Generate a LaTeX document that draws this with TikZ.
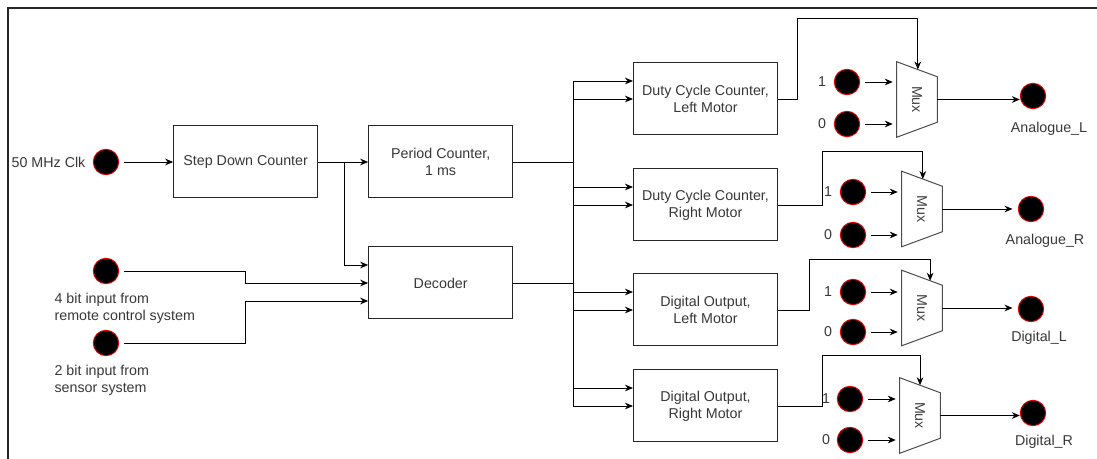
\documentclass[tikz,border=0pt]{standalone}
\usepackage{fontspec}
\setmainfont{Liberation Sans}
\usepackage{graphicx}
\usepackage{tikz}
\usetikzlibrary{arrows.meta,calc,positioning}

\begin{document}
\begin{tikzpicture}[
	x=0.75pt, y=-0.75pt,
	font=\fontsize{10.7}{13}\selectfont,
	>={Stealth[length=6pt,width=5pt]},
	% Node styles
	block/.style={
		rectangle, draw=black!85, fill=white, line width=0.75pt,
		minimum width=108pt, minimum height=54pt,
		align=center, text=black!78, inner sep=2pt
	},
	port/.style={
		circle, fill=black, draw=red!85!black, line width=0.75pt,
		minimum size=19pt, inner sep=0pt
	},
	muxbox/.style={
		rectangle, minimum width=30pt, minimum height=56.25pt,
		inner sep=0pt, text=black!75
	},
	muxline/.style={draw=black!70, line width=0.75pt},
	txt/.style={text=black!78, inner sep=1pt},
	arr/.style={->, line width=0.65pt, black},
	frame/.style={line width=1.5pt, black!85}
	]
	
	\useasboundingbox (0,0) rectangle (1097,459);
	\draw[frame] (8,470) -- (8,8) -- (1110,8);
	
	%% --- INPUTS --------------------------------------------------------------
	\node[port] (clk) at (106,162) {};
	\node[txt, anchor=east] (clklbl) at (87,162) {50 MHz Clk};
	\node[port] (remote) at (106,271) {};
	\node[txt, anchor=west, align=left] (remotelbl) at (53,308.5)
	{4 bit input from\\remote control system};
	\node[port] (sensor) at (106,343) {};
	\node[txt, anchor=west, align=left] (sensorlbl) at (53,380)
	{2 bit input from\\sensor system};
	
	%% --- COUNTERS AND DECODER -----------------------------------------------
	\node[block, right=40.5pt of clk] (step) {Step Down Counter};
	\node[block, right=37.5pt of step] (period) {Period Counter,\\1 ms};
	\node[block, below=36pt of period] (decoder) {Decoder};
	
	\draw[arr, shorten <=3.75pt] (clk.east) -- (step.west);
	\draw[arr] (step.east) -- (period.west);
	\draw[arr] (step.east) -- ++(26,0) |- ([yshift=13.5pt]decoder.west);
	\draw[arr, shorten <=3.75pt] (remote.east) -- ++(126,0) |- (decoder.west);
	\draw[arr, shorten <=3.75pt] (sensor.east) -- ++(126,0) |- ([yshift=-13.5pt]decoder.west);
	
	%% --- MOTOR BLOCKS --------------------------------------------------------
	\node[block] (dutyL) at (705.5,99)  {Duty Cycle Counter,\\Left Motor};
	\node[block] (dutyR) at (705.5,205) {Duty Cycle Counter,\\Right Motor};
	\node[block] (digL)  at (705.5,310) {Digital Output,\\Left Motor};
	\node[block] (digR)  at (705.5,406) {Digital Output,\\Right Motor};
	
	\draw[arr] (period.east) -- ++(60,0) |- ([yshift=13.5pt]dutyL.west);
	\draw[arr] (period.east) -- ++(60,0) |- ([yshift=13.5pt]dutyR.west);
	\draw[arr] (period.east) -- ++(60,0) |- ([yshift=13.5pt]digL.west);
	\draw[arr] (period.east) -- ++(60,0) |- ([yshift=13.5pt]digR.west);
	\draw[arr] (decoder.east) -- ++(60,0) |- (dutyL.west);
	\draw[arr] (decoder.east) -- ++(60,0) |- (dutyR.west);
	\draw[arr] (decoder.east) -- ++(60,0) |- (digL.west);
	\draw[arr] (decoder.east) -- ++(60,0) |- (digR.west);
	
	%% --- MULTIPLEXERS --------------------------------------------------------
	\node[muxbox] (muxA) at (917,99.5)  {\rotatebox{-90}{Mux}};
	\node[muxbox] (muxB) at (922,209)   {\rotatebox{-90}{Mux}};
	\node[muxbox] (muxC) at (922,308)   {\rotatebox{-90}{Mux}};
	\node[muxbox] (muxD) at (920,415.5) {\rotatebox{-90}{Mux}};
	
	\draw[muxline] (muxA.north west) -- ([yshift=-11.25pt]muxA.north east) -- ([yshift=11.25pt]muxA.south east) -- (muxA.south west) -- cycle;
	\draw[muxline] (muxB.north west) -- ([yshift=-11.25pt]muxB.north east) -- ([yshift=11.25pt]muxB.south east) -- (muxB.south west) -- cycle;
	\draw[muxline] (muxC.north west) -- ([yshift=-11.25pt]muxC.north east) -- ([yshift=11.25pt]muxC.south east) -- (muxC.south west) -- cycle;
	\draw[muxline] (muxD.north west) -- ([yshift=-11.25pt]muxD.north east) -- ([yshift=11.25pt]muxD.south east) -- (muxD.south west) -- cycle;
	
	\coordinate (selA) at ($(muxA.north west)!0.52!([yshift=-11.25pt]muxA.north east)$);
	\coordinate (selB) at ($(muxB.north west)!0.52!([yshift=-11.25pt]muxB.north east)$);
	\coordinate (selC) at ($(muxC.north west)!0.7!([yshift=-11.25pt]muxC.north east)$);
	\coordinate (selD) at ($(muxD.north west)!0.5!([yshift=-11.25pt]muxD.north east)$);
	
	\draw[arr] (dutyL.east) -- ++(19,0) -- ++(0,-81) -| (selA);
	\draw[arr] (dutyR.east) -- ++(44,0) -- ++(0,-54) -| (selB);
	\draw[arr] (digL.east)  -- ++(31,0) -- ++(0,-51) -| (selC);
	\draw[arr] (digR.east)  -- ++(44,0) -- ++(0,-51) -| (selD);
	
	% Constant inputs
	\node[port] (oneA)  at (847,82)  {};
	\node[port] (zeroA) at (847,124) {};
	\node[port] (oneB)  at (853,192) {};
	\node[port] (zeroB) at (853,235) {};
	\node[port] (oneC)  at (853,292) {};
	\node[port] (zeroC) at (853,332) {};
	\node[port] (oneD)  at (850,399) {};
	\node[port] (zeroD) at (850,440) {};
	
	\node[txt] (oneAlbl)  at (822,82)  {1};
	\node[txt] (zeroAlbl) at (822,124) {0};
	\node[txt] (oneBlbl)  at (828,192) {1};
	\node[txt] (zeroBlbl) at (828,235) {0};
	\node[txt] (oneClbl)  at (828,292) {1};
	\node[txt] (zeroClbl) at (828,332) {0};
	\node[txt] (oneDlbl)  at (826,399) {1};
	\node[txt] (zeroDlbl) at (826,440) {0};
	
	\draw[arr, shorten <=3.75pt, shorten >=3pt] (oneA.east)  -- (oneA.east -| muxA.west);
	\draw[arr, shorten <=3.75pt, shorten >=3pt] (zeroA.east) -- (zeroA.east -| muxA.west);
	\draw[arr, shorten <=3.75pt, shorten >=3pt] (oneB.east)  -- (oneB.east -| muxB.west);
	\draw[arr, shorten <=3.75pt, shorten >=3pt] (zeroB.east) -- (zeroB.east -| muxB.west);
	\draw[arr, shorten <=3.75pt, shorten >=3pt] (oneC.east)  -- (oneC.east -| muxC.west);
	\draw[arr, shorten <=3.75pt, shorten >=3pt] (zeroC.east) -- (zeroC.east -| muxC.west);
	\draw[arr, shorten <=3.75pt, shorten >=3pt] (oneD.east)  -- (oneD.east -| muxD.west);
	\draw[arr, shorten <=3.75pt, shorten >=3pt] (zeroD.east) -- (zeroD.east -| muxD.west);
	
	%% --- OUTPUTS -------------------------------------------------------------
	\node[port] (outA) at (1033,96)  {};
	\node[port] (outB) at (1031,209) {};
	\node[port] (outC) at (1031,309) {};
	\node[port] (outD) at (1033,413) {};
	
	\node[txt] (outAlbl) at (1049,129) {Analogue\_L};
	\node[txt] (outBlbl) at (1045,241) {Analogue\_R};
	\node[txt] (outClbl) at (1039,338) {Digital\_L};
	\node[txt] (outDlbl) at (1044,442) {Digital\_R};
	
	\draw[arr] (muxA.east) -- (muxA.east -| outA.west);
	\draw[arr, shorten >=4pt] (muxB.east) -- (muxB.east -| outB.west);
	\draw[arr, shorten >=4pt] (muxC.east) -- (muxC.east -| outC.west);
	\draw[arr] (muxD.east) -- (muxD.east -| outD.west);
	
\end{tikzpicture}
\end{document}
